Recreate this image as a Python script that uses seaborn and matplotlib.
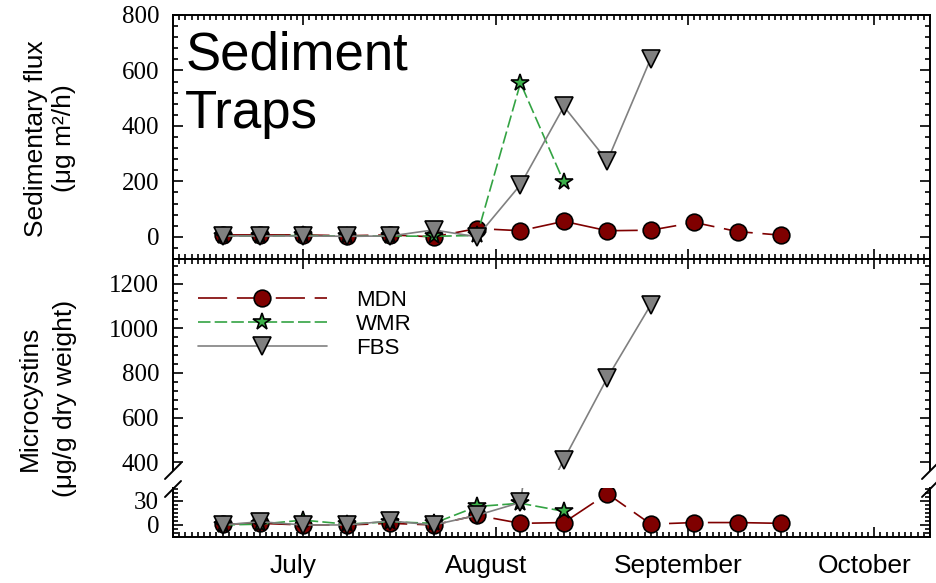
import matplotlib
matplotlib.use("Agg")
import matplotlib.pyplot as plt
import matplotlib.dates as mdates
from matplotlib.lines import Line2D
from matplotlib.ticker import MultipleLocator
from matplotlib.transforms import ScaledTranslation
import seaborn as sns
import pandas as pd

sns.set_style("ticks")
# tick numbers are in a Times-like face, all other text in an Arial-like face
plt.rcParams['font.family'] = ['Liberation Serif', 'DejaVu Serif']
plt.rcParams['lines.scale_dashes'] = False
plt.rcParams['text.color'] = 'k'
plt.rcParams['axes.labelcolor'] = 'k'
plt.rcParams['xtick.color'] = 'k'
plt.rcParams['ytick.color'] = 'k'
SANS = ['Liberation Sans', 'DejaVu Sans']

# sampling dates (weekly)
dates = pd.to_datetime(['2013-06-18', '2013-06-24', '2013-07-01', '2013-07-08',
                        '2013-07-15', '2013-07-22', '2013-07-29', '2013-08-05',
                        '2013-08-12', '2013-08-19', '2013-08-26', '2013-09-02',
                        '2013-09-09', '2013-09-16'])

# sedimentary flux (ug m2/h)
flux_mdn = [7, 7, 7, 4, 7, 0, 30, 22, 56, 22, 24, 52, 19, 6]
flux_wmr = [3, 3, 5, 2, 3, 2, 5, 555, 197]
flux_fbs = [3, 3, 3, 2, 3, 25, 0, 188, 470, 274, 643]

# microcystins (ug/g dry weight)
mc_mdn = [1, 2, 0, 0, 2, 0, 12, 2, 3, 39, 1, 3, 3, 2]
mc_wmr = [0, 1, 6, 1, 4, 2, 23, 27, 17]
mc_fbs = [0, 4, 0, 0, 5, 0, 12, 28, 412, 778, 1105]

sites = ['MDN', 'WMR', 'FBS']
styles = {
    'MDN': dict(color='#7f0000', marker='o', linestyle=(0, (21, 7)), markersize=12,
                markerfacecolor='#7f0000'),
    'WMR': dict(color='#33a343', marker='*', linestyle=(0, (9, 3)), markersize=13,
                markerfacecolor='#3cb04a'),
    'FBS': dict(color='#808080', marker='v', linestyle='-', markersize=13,
                markerfacecolor='#808080'),
}

fig = plt.figure(figsize=(9.36, 5.83), dpi=100)
ax1 = fig.add_axes([0.1848, 0.5557, 0.8088, 0.4186])
ax2 = fig.add_axes([0.1848, 0.1938, 0.8088, 0.3619])
ax3 = fig.add_axes([0.1848, 0.0789, 0.8088, 0.0840])


def draw(ax, series):
    handles = []
    for site, vals in zip(sites, series):
        sns.lineplot(x=dates[:len(vals)], y=vals, ax=ax, lw=1.2,
                     markeredgecolor='k', markeredgewidth=1.2,
                     **styles[site])
        handles.append(ax.lines[-1])
    return handles


draw(ax1, [flux_mdn, flux_wmr, flux_fbs])
handles = draw(ax2, [mc_mdn, mc_wmr, mc_fbs])
draw(ax3, [mc_mdn, mc_wmr, mc_fbs])

ax1.set_ylim(-80, 800)
ax1.yaxis.set_major_locator(MultipleLocator(200))
ax1.yaxis.set_minor_locator(MultipleLocator(40))

ax2.set_ylim(365, 1310)
ax2.set_yticks([400, 600, 800, 1000, 1200])
ax2.yaxis.set_minor_locator(MultipleLocator(40))
ax2.spines['bottom'].set_visible(False)

ax3.set_ylim(-15, 46)
ax3.set_yticks([0, 30])
ax3.yaxis.set_minor_locator(MultipleLocator(5))
ax3.spines['top'].set_visible(False)

xmin, xmax = pd.Timestamp('2013-06-10'), pd.Timestamp('2013-10-10')
for ax in (ax1, ax2, ax3):
    ax.set_xlim(xmin, xmax)
    ax.set_xlabel('')
    ax.set_ylabel('')
    ax.xaxis.set_major_locator(mdates.MonthLocator())
    ax.xaxis.set_minor_locator(mdates.DayLocator())
    ax.xaxis.set_major_formatter(mdates.DateFormatter('%B'))
    for s in ax.spines.values():
        s.set_linewidth(1.4)
        s.set_color('k')
    ax.tick_params(which='both', direction='in', colors='k', width=1.2,
                   left=True, right=True)
    ax.tick_params(which='major', length=7)
    ax.tick_params(which='minor', length=3.5)
    ax.tick_params(axis='y', which='major', labelsize=18, pad=10)

ax1.tick_params(axis='x', which='both', top=True, bottom=True, labelbottom=False)
ax2.tick_params(axis='x', which='both', top=True, bottom=False, labelbottom=False)
ax3.tick_params(axis='x', which='both', top=False, bottom=True)
ax3.tick_params(axis='x', labelsize=19, pad=12, labelfontfamily='Liberation Sans')

shift = ScaledTranslation(-0.10, 0, fig.dpi_scale_trans)
for lab in ax3.get_xticklabels():
    lab.set_transform(lab.get_transform() + shift)

ax1.text(0.016, 0.935, 'Sediment\nTraps', transform=ax1.transAxes,
         fontsize=38, ha='left', va='top', color='k', family=SANS)

ax2.legend(handles, sites, loc='upper left', bbox_to_anchor=(0.033, 0.852),
           frameon=False, prop={'family': SANS, 'size': 16},
           handlelength=5.8, handletextpad=1.3,
           labelspacing=0.12, borderpad=0, borderaxespad=0, numpoints=1)

fig.text(0.053, 0.763, 'Sedimentary flux\n(\u03bcg m\u00b2/h)', rotation=90,
         ha='center', va='center', fontsize=19, linespacing=1.2, family=SANS)
fig.text(0.051, 0.317, 'Microcystins\n(\u03bcg/g dry weight)', rotation=90,
         ha='center', va='center', fontsize=19, linespacing=1.6, family=SANS)

# axis break marks (figure pixel coordinates from top-left)
W, H = 936, 583
for xc in (173, 930):
    for yc in (471, 489):
        fig.add_artist(Line2D([(xc - 8) / W, (xc + 8) / W],
                              [1 - (yc + 8) / H, 1 - (yc - 8) / H],
                              color='k', lw=1.4, transform=fig.transFigure))

fig.savefig('out.png', dpi=100)
